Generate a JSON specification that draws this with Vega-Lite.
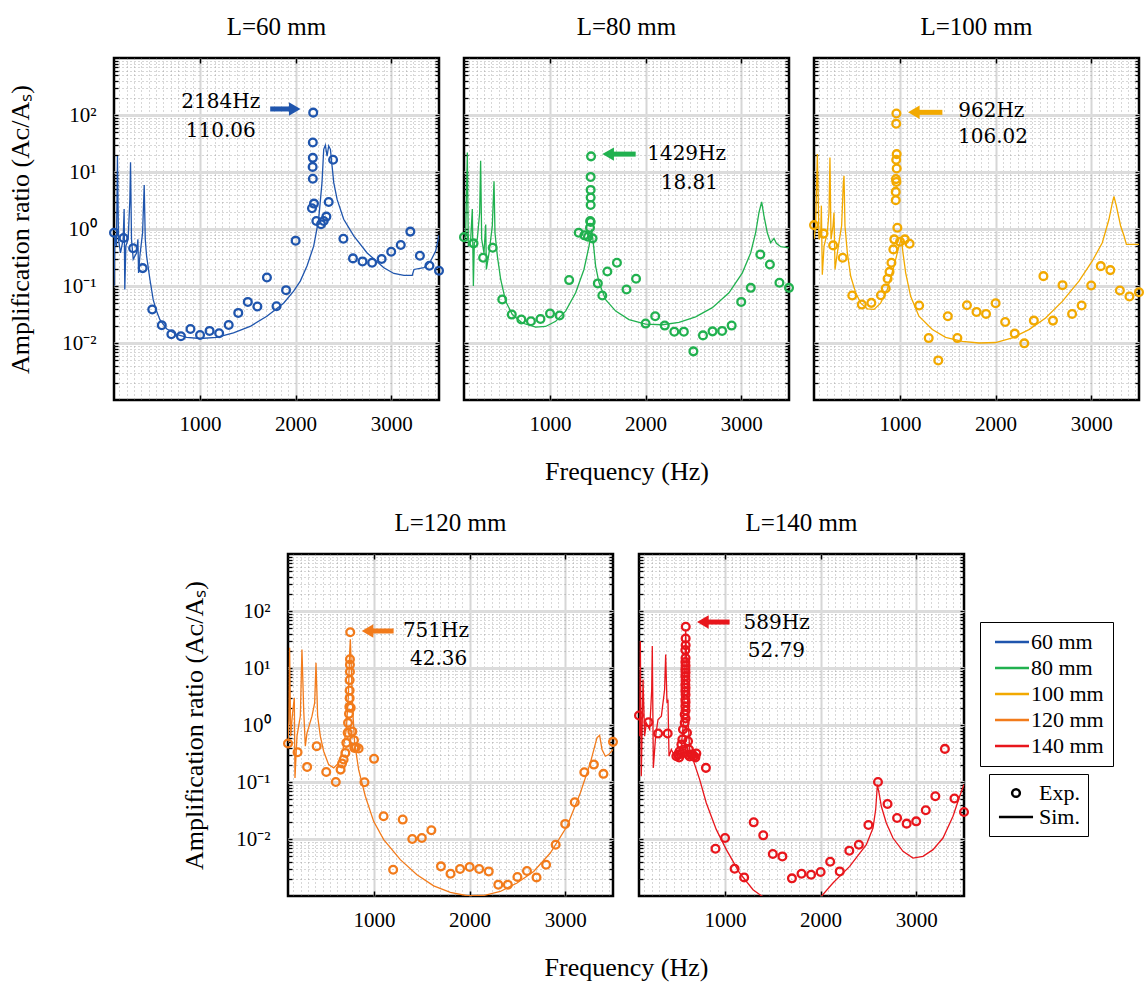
{
  "$schema": "https://vega.github.io/schema/vega-lite/v6.json",
  "padding": {"left": 6, "top": 14, "right": 0, "bottom": 0},
  "datasets": {
    "exp": [
      {"L":"60 mm","f":100,"A":0.86},{"L":"60 mm","f":200,"A":0.695},{"L":"60 mm","f":300,"A":0.46},{"L":"60 mm","f":400,"A":0.206},{"L":"60 mm","f":500,"A":0.0386},{"L":"60 mm","f":600,"A":0.0205},{"L":"60 mm","f":700,"A":0.0142},{"L":"60 mm","f":800,"A":0.0131},{"L":"60 mm","f":900,"A":0.0176},{"L":"60 mm","f":1000,"A":0.0138},{"L":"60 mm","f":1100,"A":0.0163},{"L":"60 mm","f":1200,"A":0.0148},{"L":"60 mm","f":1300,"A":0.0207},{"L":"60 mm","f":1400,"A":0.0337},{"L":"60 mm","f":1500,"A":0.0526},{"L":"60 mm","f":1600,"A":0.0436},{"L":"60 mm","f":1700,"A":0.141},{"L":"60 mm","f":1800,"A":0.0442},{"L":"60 mm","f":1900,"A":0.0845},{"L":"60 mm","f":2000,"A":0.624},{"L":"60 mm","f":2184,"A":110.06},{"L":"60 mm","f":2180,"A":33},{"L":"60 mm","f":2180,"A":17.7},{"L":"60 mm","f":2178,"A":12.3},{"L":"60 mm","f":2180,"A":7.6},{"L":"60 mm","f":2192,"A":2.79},{"L":"60 mm","f":2171,"A":2.31},{"L":"60 mm","f":2217,"A":1.38},{"L":"60 mm","f":2266,"A":1.21},{"L":"60 mm","f":2294,"A":1.38},{"L":"60 mm","f":2322,"A":1.65},{"L":"60 mm","f":2346,"A":2.98},{"L":"60 mm","f":2392,"A":16.4},{"L":"60 mm","f":2500,"A":0.676},{"L":"60 mm","f":2600,"A":0.305},{"L":"60 mm","f":2700,"A":0.27},{"L":"60 mm","f":2800,"A":0.256},{"L":"60 mm","f":2900,"A":0.297},{"L":"60 mm","f":3000,"A":0.4},{"L":"60 mm","f":3100,"A":0.523},{"L":"60 mm","f":3200,"A":0.9},{"L":"60 mm","f":3300,"A":0.34},{"L":"60 mm","f":3400,"A":0.226},{"L":"60 mm","f":3500,"A":0.185},
      {"L":"80 mm","f":100,"A":0.72},{"L":"80 mm","f":200,"A":0.56},{"L":"80 mm","f":300,"A":0.313},{"L":"80 mm","f":400,"A":0.47},{"L":"80 mm","f":500,"A":0.0578},{"L":"80 mm","f":600,"A":0.0315},{"L":"80 mm","f":700,"A":0.0258},{"L":"80 mm","f":800,"A":0.0241},{"L":"80 mm","f":900,"A":0.0264},{"L":"80 mm","f":1000,"A":0.0328},{"L":"80 mm","f":1100,"A":0.0303},{"L":"80 mm","f":1200,"A":0.127},{"L":"80 mm","f":1300,"A":0.86},{"L":"80 mm","f":1360,"A":0.774},{"L":"80 mm","f":1397,"A":0.733},{"L":"80 mm","f":1445,"A":0.685},{"L":"80 mm","f":1418,"A":1.05},{"L":"80 mm","f":1420,"A":1.38},{"L":"80 mm","f":1425,"A":1.33},{"L":"80 mm","f":1425,"A":2.64},{"L":"80 mm","f":1425,"A":3.56},{"L":"80 mm","f":1425,"A":4.85},{"L":"80 mm","f":1425,"A":8.2},{"L":"80 mm","f":1429,"A":18.81},{"L":"80 mm","f":1500,"A":0.111},{"L":"80 mm","f":1547,"A":0.068},{"L":"80 mm","f":1600,"A":0.18},{"L":"80 mm","f":1700,"A":0.256},{"L":"80 mm","f":1800,"A":0.0867},{"L":"80 mm","f":1900,"A":0.134},{"L":"80 mm","f":2000,"A":0.0219},{"L":"80 mm","f":2100,"A":0.0295},{"L":"80 mm","f":2200,"A":0.0202},{"L":"80 mm","f":2300,"A":0.0158},{"L":"80 mm","f":2400,"A":0.0158},{"L":"80 mm","f":2500,"A":0.00713},{"L":"80 mm","f":2600,"A":0.0136},{"L":"80 mm","f":2700,"A":0.016},{"L":"80 mm","f":2800,"A":0.0163},{"L":"80 mm","f":2900,"A":0.0202},{"L":"80 mm","f":3000,"A":0.0526},{"L":"80 mm","f":3100,"A":0.0928},{"L":"80 mm","f":3200,"A":0.358},{"L":"80 mm","f":3300,"A":0.239},{"L":"80 mm","f":3400,"A":0.114},{"L":"80 mm","f":3500,"A":0.0928},
      {"L":"100 mm","f":100,"A":1.17},{"L":"100 mm","f":200,"A":0.83},{"L":"100 mm","f":300,"A":0.516},{"L":"100 mm","f":400,"A":0.313},{"L":"100 mm","f":500,"A":0.068},{"L":"100 mm","f":600,"A":0.0472},{"L":"100 mm","f":700,"A":0.0506},{"L":"100 mm","f":800,"A":0.069},{"L":"100 mm","f":850,"A":0.0904},{"L":"100 mm","f":870,"A":0.134},{"L":"100 mm","f":890,"A":0.177},{"L":"100 mm","f":910,"A":0.256},{"L":"100 mm","f":930,"A":0.439},{"L":"100 mm","f":940,"A":0.658},{"L":"100 mm","f":972,"A":1.05},{"L":"100 mm","f":1000,"A":0.598},{"L":"100 mm","f":1050,"A":0.658},{"L":"100 mm","f":1100,"A":0.552},{"L":"100 mm","f":955,"A":3.19},{"L":"100 mm","f":955,"A":4.48},{"L":"100 mm","f":962,"A":6.7},{"L":"100 mm","f":957,"A":7.5},{"L":"100 mm","f":965,"A":11.5},{"L":"100 mm","f":960,"A":16.4},{"L":"100 mm","f":965,"A":20.6},{"L":"100 mm","f":960,"A":70.5},{"L":"100 mm","f":962,"A":106.02},{"L":"100 mm","f":1200,"A":0.0454},{"L":"100 mm","f":1300,"A":0.0122},{"L":"100 mm","f":1400,"A":0.00495},{"L":"100 mm","f":1500,"A":0.0294},{"L":"100 mm","f":1600,"A":0.0122},{"L":"100 mm","f":1700,"A":0.046},{"L":"100 mm","f":1800,"A":0.0351},{"L":"100 mm","f":1900,"A":0.0324},{"L":"100 mm","f":2000,"A":0.0499},{"L":"100 mm","f":2100,"A":0.0234},{"L":"100 mm","f":2200,"A":0.0146},{"L":"100 mm","f":2300,"A":0.00986},{"L":"100 mm","f":2400,"A":0.0247},{"L":"100 mm","f":2500,"A":0.149},{"L":"100 mm","f":2600,"A":0.0247},{"L":"100 mm","f":2700,"A":0.1035},{"L":"100 mm","f":2800,"A":0.0324},{"L":"100 mm","f":2900,"A":0.0454},{"L":"100 mm","f":3000,"A":0.102},{"L":"100 mm","f":3100,"A":0.223},{"L":"100 mm","f":3200,"A":0.19},{"L":"100 mm","f":3300,"A":0.0834},{"L":"100 mm","f":3400,"A":0.0653},{"L":"100 mm","f":3500,"A":0.0778},
      {"L":"120 mm","f":100,"A":0.473},{"L":"120 mm","f":200,"A":0.333},{"L":"120 mm","f":300,"A":0.184},{"L":"120 mm","f":400,"A":0.425},{"L":"120 mm","f":500,"A":0.15},{"L":"120 mm","f":600,"A":0.1},{"L":"120 mm","f":650,"A":0.165},{"L":"120 mm","f":665,"A":0.211},{"L":"120 mm","f":682,"A":0.248},{"L":"120 mm","f":700,"A":0.324},{"L":"120 mm","f":710,"A":0.486},{"L":"120 mm","f":724,"A":0.728},{"L":"120 mm","f":728,"A":1.09},{"L":"120 mm","f":738,"A":1.57},{"L":"120 mm","f":742,"A":2.08},{"L":"120 mm","f":745,"A":2.96},{"L":"120 mm","f":745,"A":4.04},{"L":"120 mm","f":745,"A":6.14},{"L":"120 mm","f":748,"A":8.6},{"L":"120 mm","f":748,"A":11.4},{"L":"120 mm","f":748,"A":14.2},{"L":"120 mm","f":751,"A":42.36},{"L":"120 mm","f":756,"A":2.0},{"L":"120 mm","f":773,"A":0.77},{"L":"120 mm","f":790,"A":0.542},{"L":"120 mm","f":794,"A":0.397},{"L":"120 mm","f":811,"A":0.408},{"L":"120 mm","f":839,"A":0.387},{"L":"120 mm","f":900,"A":0.099},{"L":"120 mm","f":1000,"A":0.255},{"L":"120 mm","f":1100,"A":0.025},{"L":"120 mm","f":1200,"A":0.00289},{"L":"120 mm","f":1300,"A":0.0219},{"L":"120 mm","f":1400,"A":0.01},{"L":"120 mm","f":1500,"A":0.0104},{"L":"120 mm","f":1600,"A":0.0142},{"L":"120 mm","f":1700,"A":0.00331},{"L":"120 mm","f":1800,"A":0.00246},{"L":"120 mm","f":1900,"A":0.00297},{"L":"120 mm","f":2000,"A":0.00322},{"L":"120 mm","f":2100,"A":0.00297},{"L":"120 mm","f":2200,"A":0.0027},{"L":"120 mm","f":2300,"A":0.00158},{"L":"120 mm","f":2400,"A":0.00158},{"L":"120 mm","f":2500,"A":0.00215},{"L":"120 mm","f":2600,"A":0.00274},{"L":"120 mm","f":2700,"A":0.00212},{"L":"120 mm","f":2800,"A":0.00354},{"L":"120 mm","f":2900,"A":0.00794},{"L":"120 mm","f":3000,"A":0.0184},{"L":"120 mm","f":3100,"A":0.0441},{"L":"120 mm","f":3200,"A":0.148},{"L":"120 mm","f":3300,"A":0.202},{"L":"120 mm","f":3400,"A":0.139},{"L":"120 mm","f":3500,"A":0.506},
      {"L":"140 mm","f":100,"A":1.47},{"L":"140 mm","f":200,"A":1.12},{"L":"140 mm","f":300,"A":0.71},{"L":"140 mm","f":400,"A":0.71},{"L":"140 mm","f":491,"A":0.283},{"L":"140 mm","f":508,"A":0.303},{"L":"140 mm","f":520,"A":0.27},{"L":"140 mm","f":525,"A":0.347},{"L":"140 mm","f":535,"A":0.31},{"L":"140 mm","f":543,"A":0.454},{"L":"140 mm","f":553,"A":0.556},{"L":"140 mm","f":560,"A":0.833},{"L":"140 mm","f":567,"A":0.371},{"L":"140 mm","f":578,"A":1.09},{"L":"140 mm","f":578,"A":1.53},{"L":"140 mm","f":585,"A":2.14},{"L":"140 mm","f":585,"A":2.8},{"L":"140 mm","f":585,"A":3.93},{"L":"140 mm","f":585,"A":5.15},{"L":"140 mm","f":585,"A":7.2},{"L":"140 mm","f":585,"A":9.45},{"L":"140 mm","f":585,"A":12.7},{"L":"140 mm","f":585,"A":20.6},{"L":"140 mm","f":587,"A":1.3},{"L":"140 mm","f":587,"A":1.8},{"L":"140 mm","f":587,"A":2.5},{"L":"140 mm","f":587,"A":3.4},{"L":"140 mm","f":587,"A":4.5},{"L":"140 mm","f":587,"A":6.1},{"L":"140 mm","f":587,"A":8.3},{"L":"140 mm","f":587,"A":11},{"L":"140 mm","f":587,"A":15},{"L":"140 mm","f":588,"A":25},{"L":"140 mm","f":588,"A":33},{"L":"140 mm","f":589,"A":52.79},{"L":"140 mm","f":602,"A":0.728},{"L":"140 mm","f":613,"A":0.52},{"L":"140 mm","f":615,"A":0.3},{"L":"140 mm","f":623,"A":0.371},{"L":"140 mm","f":630,"A":0.28},{"L":"140 mm","f":647,"A":0.303},{"L":"140 mm","f":660,"A":0.3},{"L":"140 mm","f":675,"A":0.283},{"L":"140 mm","f":690,"A":0.27},{"L":"140 mm","f":700,"A":0.315},{"L":"140 mm","f":800,"A":0.177},{"L":"140 mm","f":900,"A":0.00676},{"L":"140 mm","f":1000,"A":0.0104},{"L":"140 mm","f":1100,"A":0.00301},{"L":"140 mm","f":1200,"A":0.00212},{"L":"140 mm","f":1300,"A":0.0196},{"L":"140 mm","f":1400,"A":0.0116},{"L":"140 mm","f":1500,"A":0.00545},{"L":"140 mm","f":1600,"A":0.00495},{"L":"140 mm","f":1700,"A":0.00204},{"L":"140 mm","f":1800,"A":0.00246},{"L":"140 mm","f":1900,"A":0.00236},{"L":"140 mm","f":2000,"A":0.00263},{"L":"140 mm","f":2100,"A":0.004},{"L":"140 mm","f":2200,"A":0.0027},{"L":"140 mm","f":2300,"A":0.00624},{"L":"140 mm","f":2400,"A":0.00794},{"L":"140 mm","f":2500,"A":0.0176},{"L":"140 mm","f":2600,"A":0.1},{"L":"140 mm","f":2700,"A":0.0412},{"L":"140 mm","f":2800,"A":0.0234},{"L":"140 mm","f":2900,"A":0.0186},{"L":"140 mm","f":3000,"A":0.0204},{"L":"140 mm","f":3100,"A":0.0319},{"L":"140 mm","f":3200,"A":0.0562},{"L":"140 mm","f":3300,"A":0.381},{"L":"140 mm","f":3400,"A":0.0512},{"L":"140 mm","f":3500,"A":0.0298}
    ],
    "sim": [
      {"L":"60 mm","f":100,"A":0.1},{"L":"60 mm","f":108,"A":0.76},{"L":"60 mm","f":126,"A":0.5},{"L":"60 mm","f":136,"A":19.1},{"L":"60 mm","f":147,"A":0.66},{"L":"60 mm","f":168,"A":0.38},{"L":"60 mm","f":196,"A":0.66},{"L":"60 mm","f":206,"A":2.24},{"L":"60 mm","f":213,"A":0.087},{"L":"60 mm","f":224,"A":0.5},{"L":"60 mm","f":248,"A":0.66},{"L":"60 mm","f":266,"A":3.3},{"L":"60 mm","f":273,"A":14.8},{"L":"60 mm","f":283,"A":0.66},{"L":"60 mm","f":301,"A":0.295},{"L":"60 mm","f":336,"A":0.38},{"L":"60 mm","f":350,"A":0.66},{"L":"60 mm","f":357,"A":0.17},{"L":"60 mm","f":371,"A":0.34},{"L":"60 mm","f":399,"A":0.86},{"L":"60 mm","f":416,"A":5.9},{"L":"60 mm","f":427,"A":0.66},{"L":"60 mm","f":441,"A":0.335},{"L":"60 mm","f":476,"A":0.13},{"L":"60 mm","f":510,"A":0.0575},{"L":"60 mm","f":545,"A":0.0363},{"L":"60 mm","f":580,"A":0.0257},{"L":"60 mm","f":650,"A":0.0178},{"L":"60 mm","f":755,"A":0.0141},{"L":"60 mm","f":860,"A":0.0126},{"L":"60 mm","f":1000,"A":0.012},{"L":"60 mm","f":1175,"A":0.0126},{"L":"60 mm","f":1350,"A":0.0151},{"L":"60 mm","f":1524,"A":0.0195},{"L":"60 mm","f":1699,"A":0.0295},{"L":"60 mm","f":1874,"A":0.05},{"L":"60 mm","f":1979,"A":0.081},{"L":"60 mm","f":2049,"A":0.122},{"L":"60 mm","f":2119,"A":0.224},{"L":"60 mm","f":2189,"A":0.5},{"L":"60 mm","f":2241,"A":1.48},{"L":"60 mm","f":2276,"A":6.5},{"L":"60 mm","f":2294,"A":25},{"L":"60 mm","f":2311,"A":29.5},{"L":"60 mm","f":2329,"A":19},{"L":"60 mm","f":2346,"A":28.8},{"L":"60 mm","f":2364,"A":25},{"L":"60 mm","f":2381,"A":12.9},{"L":"60 mm","f":2399,"A":6.5},{"L":"60 mm","f":2434,"A":3.3},{"L":"60 mm","f":2503,"A":1.48},{"L":"60 mm","f":2608,"A":0.76},{"L":"60 mm","f":2748,"A":0.38},{"L":"60 mm","f":2923,"A":0.209},{"L":"60 mm","f":3028,"A":0.166},{"L":"60 mm","f":3133,"A":0.153},{"L":"60 mm","f":3220,"A":0.153},{"L":"60 mm","f":3238,"A":0.195},{"L":"60 mm","f":3343,"A":0.209},{"L":"60 mm","f":3413,"A":0.275},{"L":"60 mm","f":3465,"A":0.41},{"L":"60 mm","f":3500,"A":0.78},
      {"L":"80 mm","f":100,"A":0.66},{"L":"80 mm","f":117,"A":0.76},{"L":"80 mm","f":135,"A":21.9},{"L":"80 mm","f":145,"A":0.5},{"L":"80 mm","f":170,"A":0.66},{"L":"80 mm","f":187,"A":2.24},{"L":"80 mm","f":198,"A":0.1},{"L":"80 mm","f":208,"A":0.575},{"L":"80 mm","f":239,"A":0.66},{"L":"80 mm","f":264,"A":1.95},{"L":"80 mm","f":274,"A":15.8},{"L":"80 mm","f":285,"A":0.66},{"L":"80 mm","f":309,"A":0.38},{"L":"80 mm","f":327,"A":1.2},{"L":"80 mm","f":334,"A":0.195},{"L":"80 mm","f":362,"A":0.38},{"L":"80 mm","f":396,"A":1.12},{"L":"80 mm","f":414,"A":6.9},{"L":"80 mm","f":424,"A":0.86},{"L":"80 mm","f":449,"A":0.335},{"L":"80 mm","f":484,"A":0.13},{"L":"80 mm","f":536,"A":0.0537},{"L":"80 mm","f":606,"A":0.0316},{"L":"80 mm","f":710,"A":0.0224},{"L":"80 mm","f":850,"A":0.019},{"L":"80 mm","f":954,"A":0.0195},{"L":"80 mm","f":1059,"A":0.024},{"L":"80 mm","f":1163,"A":0.0363},{"L":"80 mm","f":1268,"A":0.0759},{"L":"80 mm","f":1355,"A":0.195},{"L":"80 mm","f":1408,"A":0.5},{"L":"80 mm","f":1436,"A":0.99},{"L":"80 mm","f":1456,"A":0.5},{"L":"80 mm","f":1477,"A":0.224},{"L":"80 mm","f":1512,"A":0.115},{"L":"80 mm","f":1582,"A":0.0575},{"L":"80 mm","f":1687,"A":0.0363},{"L":"80 mm","f":1826,"A":0.0257},{"L":"80 mm","f":2000,"A":0.0214},{"L":"80 mm","f":2175,"A":0.0209},{"L":"80 mm","f":2349,"A":0.0229},{"L":"80 mm","f":2523,"A":0.0288},{"L":"80 mm","f":2698,"A":0.0417},{"L":"80 mm","f":2872,"A":0.0759},{"L":"80 mm","f":3012,"A":0.17},{"L":"80 mm","f":3099,"A":0.38},{"L":"80 mm","f":3151,"A":0.86},{"L":"80 mm","f":3186,"A":1.95},{"L":"80 mm","f":3214,"A":2.99},{"L":"80 mm","f":3238,"A":1.7},{"L":"80 mm","f":3273,"A":0.86},{"L":"80 mm","f":3308,"A":0.575},{"L":"80 mm","f":3343,"A":0.684},{"L":"80 mm","f":3368,"A":0.562},{"L":"80 mm","f":3413,"A":0.49},{"L":"80 mm","f":3500,"A":0.468},
      {"L":"100 mm","f":100,"A":0.66},{"L":"100 mm","f":117,"A":1.13},{"L":"100 mm","f":135,"A":20.6},{"L":"100 mm","f":152,"A":0.66},{"L":"100 mm","f":170,"A":0.76},{"L":"100 mm","f":177,"A":2.57},{"L":"100 mm","f":187,"A":0.158},{"L":"100 mm","f":205,"A":0.5},{"L":"100 mm","f":239,"A":0.86},{"L":"100 mm","f":257,"A":1.95},{"L":"100 mm","f":267,"A":18},{"L":"100 mm","f":278,"A":0.66},{"L":"100 mm","f":299,"A":1.13},{"L":"100 mm","f":309,"A":1.95},{"L":"100 mm","f":320,"A":0.195},{"L":"100 mm","f":344,"A":0.38},{"L":"100 mm","f":389,"A":1.13},{"L":"100 mm","f":407,"A":6.5},{"L":"100 mm","f":414,"A":8.6},{"L":"100 mm","f":424,"A":1.13},{"L":"100 mm","f":449,"A":0.38},{"L":"100 mm","f":484,"A":0.148},{"L":"100 mm","f":536,"A":0.0759},{"L":"100 mm","f":589,"A":0.05},{"L":"100 mm","f":658,"A":0.0398},{"L":"100 mm","f":728,"A":0.0389},{"L":"100 mm","f":797,"A":0.05},{"L":"100 mm","f":867,"A":0.087},{"L":"100 mm","f":937,"A":0.224},{"L":"100 mm","f":989,"A":0.5},{"L":"100 mm","f":1014,"A":0.676},{"L":"100 mm","f":1031,"A":0.38},{"L":"100 mm","f":1059,"A":0.17},{"L":"100 mm","f":1111,"A":0.066},{"L":"100 mm","f":1198,"A":0.0295},{"L":"100 mm","f":1338,"A":0.0172},{"L":"100 mm","f":1477,"A":0.0126},{"L":"100 mm","f":1652,"A":0.0107},{"L":"100 mm","f":1826,"A":0.01},{"L":"100 mm","f":2000,"A":0.0102},{"L":"100 mm","f":2175,"A":0.0123},{"L":"100 mm","f":2349,"A":0.0172},{"L":"100 mm","f":2523,"A":0.0275},{"L":"100 mm","f":2698,"A":0.0537},{"L":"100 mm","f":2872,"A":0.122},{"L":"100 mm","f":3012,"A":0.275},{"L":"100 mm","f":3116,"A":0.575},{"L":"100 mm","f":3186,"A":1.48},{"L":"100 mm","f":3221,"A":2.88},{"L":"100 mm","f":3238,"A":3.72},{"L":"100 mm","f":3263,"A":2.54},{"L":"100 mm","f":3308,"A":1.13},{"L":"100 mm","f":3343,"A":0.76},{"L":"100 mm","f":3368,"A":0.537},{"L":"100 mm","f":3500,"A":0.537},
      {"L":"120 mm","f":100,"A":0.486},{"L":"120 mm","f":110,"A":1.25},{"L":"120 mm","f":117,"A":22.7},{"L":"120 mm","f":128,"A":0.637},{"L":"120 mm","f":142,"A":1.25},{"L":"120 mm","f":152,"A":1.87},{"L":"120 mm","f":166,"A":3.0},{"L":"120 mm","f":173,"A":0.118},{"L":"120 mm","f":194,"A":0.637},{"L":"120 mm","f":229,"A":1.43},{"L":"120 mm","f":246,"A":21.2},{"L":"120 mm","f":264,"A":1.87},{"L":"120 mm","f":281,"A":0.425},{"L":"120 mm","f":299,"A":0.728},{"L":"120 mm","f":351,"A":1.43},{"L":"120 mm","f":379,"A":2.45},{"L":"120 mm","f":393,"A":12.4},{"L":"120 mm","f":410,"A":1.43},{"L":"120 mm","f":438,"A":0.637},{"L":"120 mm","f":473,"A":0.347},{"L":"120 mm","f":525,"A":0.202},{"L":"120 mm","f":578,"A":0.177},{"L":"120 mm","f":630,"A":0.216},{"L":"120 mm","f":675,"A":0.372},{"L":"120 mm","f":710,"A":0.834},{"L":"120 mm","f":731,"A":3.21},{"L":"120 mm","f":745,"A":18.5},{"L":"120 mm","f":752,"A":31.8},{"L":"120 mm","f":763,"A":9.44},{"L":"120 mm","f":777,"A":1.87},{"L":"120 mm","f":797,"A":0.486},{"L":"120 mm","f":839,"A":0.165},{"L":"120 mm","f":909,"A":0.0562},{"L":"120 mm","f":996,"A":0.0204},{"L":"120 mm","f":1101,"A":0.00973},{"L":"120 mm","f":1275,"A":0.00434},{"L":"120 mm","f":1449,"A":0.00236},{"L":"120 mm","f":1624,"A":0.00151},{"L":"120 mm","f":1798,"A":0.00116},{"L":"120 mm","f":1973,"A":0.00101},{"L":"120 mm","f":2147,"A":0.00102},{"L":"120 mm","f":2321,"A":0.0012},{"L":"120 mm","f":2496,"A":0.00169},{"L":"120 mm","f":2670,"A":0.0027},{"L":"120 mm","f":2844,"A":0.00568},{"L":"120 mm","f":3019,"A":0.0167},{"L":"120 mm","f":3158,"A":0.0643},{"L":"120 mm","f":3263,"A":0.216},{"L":"120 mm","f":3332,"A":0.596},{"L":"120 mm","f":3360,"A":0.662},{"L":"120 mm","f":3385,"A":0.372},{"L":"120 mm","f":3420,"A":0.283},{"L":"120 mm","f":3455,"A":0.303},{"L":"120 mm","f":3500,"A":0.372},
      {"L":"140 mm","f":100,"A":1.43},{"L":"140 mm","f":107,"A":0.637},{"L":"140 mm","f":114,"A":29.7},{"L":"140 mm","f":124,"A":0.126},{"L":"140 mm","f":142,"A":6.3},{"L":"140 mm","f":159,"A":0.637},{"L":"140 mm","f":177,"A":1.09},{"L":"140 mm","f":212,"A":0.834},{"L":"140 mm","f":233,"A":4.2},{"L":"140 mm","f":239,"A":24.3},{"L":"140 mm","f":250,"A":0.177},{"L":"140 mm","f":274,"A":0.637},{"L":"140 mm","f":299,"A":1.25},{"L":"140 mm","f":334,"A":1.43},{"L":"140 mm","f":368,"A":4.2},{"L":"140 mm","f":379,"A":17.3},{"L":"140 mm","f":393,"A":2.45},{"L":"140 mm","f":403,"A":2.8},{"L":"140 mm","f":414,"A":0.283},{"L":"140 mm","f":438,"A":0.372},{"L":"140 mm","f":473,"A":0.283},{"L":"140 mm","f":508,"A":0.303},{"L":"140 mm","f":543,"A":0.425},{"L":"140 mm","f":567,"A":1.25},{"L":"140 mm","f":581,"A":12.4},{"L":"140 mm","f":588,"A":47.7},{"L":"140 mm","f":599,"A":12.4},{"L":"140 mm","f":613,"A":1.25},{"L":"140 mm","f":630,"A":0.372},{"L":"140 mm","f":665,"A":0.248},{"L":"140 mm","f":735,"A":0.11},{"L":"140 mm","f":804,"A":0.0429},{"L":"140 mm","f":909,"A":0.0146},{"L":"140 mm","f":1014,"A":0.0065},{"L":"140 mm","f":1153,"A":0.00253},{"L":"140 mm","f":1293,"A":0.00129},{"L":"140 mm","f":1390,"A":0.000984},{"L":"140 mm","f":1700,"A":0.0003},{"L":"140 mm","f":2007,"A":0.000984},{"L":"140 mm","f":2129,"A":0.00169},{"L":"140 mm","f":2304,"A":0.00331},{"L":"140 mm","f":2478,"A":0.00794},{"L":"140 mm","f":2548,"A":0.0156},{"L":"140 mm","f":2576,"A":0.0327},{"L":"140 mm","f":2594,"A":0.0902},{"L":"140 mm","f":2611,"A":0.0643},{"L":"140 mm","f":2635,"A":0.0375},{"L":"140 mm","f":2687,"A":0.0191},{"L":"140 mm","f":2757,"A":0.0104},{"L":"140 mm","f":2862,"A":0.00607},{"L":"140 mm","f":2966,"A":0.00463},{"L":"140 mm","f":3071,"A":0.00495},{"L":"140 mm","f":3176,"A":0.0065},{"L":"140 mm","f":3280,"A":0.0104},{"L":"140 mm","f":3385,"A":0.025},{"L":"140 mm","f":3455,"A":0.0562},{"L":"140 mm","f":3500,"A":0.0902}
    ],
    "ann": [
      {"L":"60 mm","f":1217,"A":167,"label":"2184Hz"},{"L":"60 mm","f":1217,"A":53,"label":"110.06"},
      {"L":"80 mm","f":2429,"A":20.6,"label":"1429Hz"},{"L":"80 mm","f":2457,"A":6.35,"label":"18.81"},
      {"L":"100 mm","f":1955,"A":119,"label":"962Hz"},{"L":"100 mm","f":1973,"A":40.5,"label":"106.02"},
      {"L":"120 mm","f":1648,"A":44.6,"label":"751Hz"},{"L":"120 mm","f":1676,"A":14.2,"label":"42.36"},
      {"L":"140 mm","f":1540,"A":62.4,"label":"589Hz"},{"L":"140 mm","f":1537,"A":19.8,"label":"52.79"}
    ],
    "arr": [
      {"L":"60 mm","f0":1734,"f1":1991,"A":127.6},
      {"L":"80 mm","f0":1896,"f1":1608,"A":20.6},
      {"L":"100 mm","f0":1443,"f1":1144,"A":111.4},
      {"L":"120 mm","f0":1205,"f1":932,"A":44.6},
      {"L":"140 mm","f0":1048,"f1":768,"A":64}
    ]
  },
  "vconcat": [
    {
      "hconcat": [
        {
          "width": 325, "height": 342, "title": "L=60 mm",
          "layer": [
            {"data": {"name": "sim"}, "transform": [{"filter": "datum.L == '60 mm'"}],
             "mark": {"type": "line", "strokeWidth": 1.3, "clip": true},
             "encoding": {
               "x": {"field": "f", "type": "quantitative", "scale": {"domain": [100, 3500], "nice": false, "zero": false}, "axis": {"orient": "bottom", "values": [1000, 2000, 3000], "format": "d", "grid": true, "gridColor": "#d6d6d6", "gridWidth": 2, "ticks": false, "tickSize": 0, "labelPadding": 13, "title": null}},
               "y": {"field": "A", "type": "quantitative", "scale": {"type": "log", "domain": [0.001, 1000], "nice": false}, "axis": {"orient": "left", "values": [0.01, 0.1, 1, 10, 100], "grid": true, "gridColor": "#dcdcdc", "gridWidth": 3, "ticks": false, "tickSize": 0, "labelPadding": 18, "labelExpr": "datum.value >= 99 ? '10²' : datum.value >= 9 ? '10¹' : datum.value >= 0.9 ? '10⁰' : datum.value >= 0.09 ? '10⁻¹' : '10⁻²'", "title": "Amplification ratio (Aᴄ/Aₛ)", "titlePadding": 28}},
               "color": {"field": "L", "type": "nominal", "scale": {"domain": ["60 mm", "80 mm", "100 mm", "120 mm", "140 mm"], "range": ["#1f55ad", "#21b14f", "#f2a900", "#f27b1b", "#e8161c"]},
                 "legend": {"title": null, "orient": "none", "legendX": 866, "legendY": 564, "symbolType": "M-3.4,0L3.4,0", "symbolSize": 100, "symbolOffset": 12, "labelOffset": 8, "symbolStrokeWidth": 2.5, "rowPadding": 4, "padding": 9, "strokeColor": "black", "labelFontSize": 22, "labelFont": "Liberation Serif"}}
             }},
            {"data": {"name": "exp"}, "transform": [{"filter": "datum.L == '60 mm'"}],
             "mark": {"type": "point", "filled": false, "strokeWidth": 2.3, "size": 60, "opacity": 1},
             "encoding": {
               "x": {"field": "f", "type": "quantitative", "scale": {"domain": [100, 3500], "nice": false, "zero": false}, "axis": {"orient": "bottom", "values": [153.8, 230.8, 307.7, 384.6, 461.5, 538.5, 615.4, 692.3, 769.2, 846.2, 923.1, 1076.9, 1153.8, 1230.8, 1307.7, 1384.6, 1461.5, 1538.5, 1615.4, 1692.3, 1769.2, 1846.2, 1923.1, 2076.9, 2153.8, 2230.8, 2307.7, 2384.6, 2461.5, 2538.5, 2615.4, 2692.3, 2769.2, 2846.2, 2923.1, 3076.9, 3153.8, 3230.8, 3307.7, 3384.6, 3461.5], "grid": true, "gridColor": "#8c8c8c", "gridOpacity": 0.7, "gridDash": [1, 3], "gridWidth": 1, "ticks": false, "labels": false, "title": null}},
               "y": {"field": "A", "type": "quantitative", "scale": {"type": "log", "domain": [0.001, 1000], "nice": false}, "axis": {"orient": "left", "values": [0.002, 0.003, 0.004, 0.005, 0.006, 0.007, 0.008, 0.009, 0.02, 0.03, 0.04, 0.05, 0.06, 0.07, 0.08, 0.09, 0.2, 0.3, 0.4, 0.5, 0.6, 0.7, 0.8, 0.9, 2, 3, 4, 5, 6, 7, 8, 9, 20, 30, 40, 50, 60, 70, 80, 90, 200, 300, 400, 500, 600, 700, 800, 900], "grid": true, "gridColor": "#8c8c8c", "gridOpacity": 0.7, "gridDash": [1, 3], "gridWidth": 1, "ticks": false, "labels": false, "title": null}},
               "color": {"field": "L", "type": "nominal"},
               "shape": {"datum": "Exp.", "scale": {"domain": ["Exp.", "Sim."], "range": ["circle", "M-4.4,0L4.4,0"]},
                 "legend": {"title": null, "orient": "none", "legendX": 875, "legendY": 716, "symbolSize": 60, "symbolOffset": 8, "labelOffset": 12, "symbolStrokeWidth": 2.5, "symbolStrokeColor": "black", "symbolFillColor": "transparent", "rowPadding": 2, "padding": 8, "strokeColor": "black", "labelFontSize": 22, "labelFont": "Liberation Serif"}}
             }},
            {"data": {"name": "ann"}, "transform": [{"filter": "datum.L == '60 mm'"}],
             "mark": {"type": "text", "font": "DejaVu Serif", "fontSize": 20, "color": "black", "align": "center", "baseline": "middle"},
             "encoding": {
               "x": {"field": "f", "type": "quantitative", "scale": {"domain": [100, 3500], "nice": false, "zero": false}, "axis": {"orient": "bottom", "values": [1000, 2000, 3000], "grid": false, "ticks": true, "tickSize": -5, "tickColor": "black", "tickWidth": 1.5, "labels": false, "title": null}},
               "y": {"field": "A", "type": "quantitative", "scale": {"type": "log", "domain": [0.001, 1000], "nice": false}, "axis": {"orient": "left", "values": [0.002, 0.003, 0.004, 0.005, 0.006, 0.007, 0.008, 0.009, 0.01, 0.02, 0.03, 0.04, 0.05, 0.06, 0.07, 0.08, 0.09, 0.1, 0.2, 0.3, 0.4, 0.5, 0.6, 0.7, 0.8, 0.9, 1, 2, 3, 4, 5, 6, 7, 8, 9, 10, 20, 30, 40, 50, 60, 70, 80, 90, 100, 200, 300, 400, 500, 600, 700, 800, 900], "grid": false, "ticks": true, "tickSize": -4, "tickColor": "black", "tickWidth": 1.3, "labels": false, "title": null}},
               "text": {"field": "label"}
             }},
            {"data": {"name": "arr"}, "transform": [{"filter": "datum.L == '60 mm'"}],
             "mark": {"type": "rule", "strokeWidth": 5},
             "encoding": {
               "x": {"field": "f0", "type": "quantitative", "scale": {"domain": [100, 3500], "nice": false, "zero": false}, "axis": {"orient": "top", "values": [1000, 2000, 3000], "grid": false, "ticks": true, "tickSize": -5, "tickColor": "black", "tickWidth": 1.5, "labels": false, "title": null}},
               "x2": {"field": "f1"},
               "y": {"field": "A", "type": "quantitative", "scale": {"type": "log", "domain": [0.001, 1000], "nice": false}, "axis": {"orient": "right", "values": [0.002, 0.003, 0.004, 0.005, 0.006, 0.007, 0.008, 0.009, 0.01, 0.02, 0.03, 0.04, 0.05, 0.06, 0.07, 0.08, 0.09, 0.1, 0.2, 0.3, 0.4, 0.5, 0.6, 0.7, 0.8, 0.9, 1, 2, 3, 4, 5, 6, 7, 8, 9, 10, 20, 30, 40, 50, 60, 70, 80, 90, 100, 200, 300, 400, 500, 600, 700, 800, 900], "grid": false, "ticks": true, "tickSize": -4, "tickColor": "black", "tickWidth": 1.3, "labels": false, "title": null}},
               "color": {"field": "L", "type": "nominal"}
             }},
            {"data": {"name": "arr"}, "transform": [{"filter": "datum.L == '60 mm'"}],
             "mark": {"type": "point", "shape": "triangle-right", "filled": true, "size": 180, "opacity": 1},
             "encoding": {
               "x": {"field": "f1", "type": "quantitative", "scale": {"domain": [100, 3500], "nice": false, "zero": false}, "axis": null},
               "y": {"field": "A", "type": "quantitative", "scale": {"type": "log", "domain": [0.001, 1000], "nice": false}, "axis": null},
               "color": {"field": "L", "type": "nominal"}
             }}
          ],
          "resolve": {"axis": {"x": "independent", "y": "independent"}}
        },
        {
          "width": 325, "height": 342, "title": "L=80 mm",
          "layer": [
            {"data": {"name": "sim"}, "transform": [{"filter": "datum.L == '80 mm'"}],
             "mark": {"type": "line", "strokeWidth": 1.3, "clip": true},
             "encoding": {
               "x": {"field": "f", "type": "quantitative", "scale": {"domain": [100, 3500], "nice": false, "zero": false}, "axis": {"orient": "bottom", "values": [1000, 2000, 3000], "format": "d", "grid": true, "gridColor": "#d6d6d6", "gridWidth": 2, "ticks": false, "tickSize": 0, "labelPadding": 13, "title": "Frequency (Hz)", "titlePadding": 24}},
               "y": {"field": "A", "type": "quantitative", "scale": {"type": "log", "domain": [0.001, 1000], "nice": false}, "axis": {"orient": "left", "values": [0.01, 0.1, 1, 10, 100], "grid": true, "gridColor": "#dcdcdc", "gridWidth": 3, "ticks": false, "tickSize": 0, "labels": false, "title": null}},
               "color": {"field": "L", "type": "nominal"}
             }},
            {"data": {"name": "exp"}, "transform": [{"filter": "datum.L == '80 mm'"}],
             "mark": {"type": "point", "filled": false, "strokeWidth": 2.3, "size": 60, "opacity": 1},
             "encoding": {
               "x": {"field": "f", "type": "quantitative", "scale": {"domain": [100, 3500], "nice": false, "zero": false}, "axis": {"orient": "bottom", "values": [153.8, 230.8, 307.7, 384.6, 461.5, 538.5, 615.4, 692.3, 769.2, 846.2, 923.1, 1076.9, 1153.8, 1230.8, 1307.7, 1384.6, 1461.5, 1538.5, 1615.4, 1692.3, 1769.2, 1846.2, 1923.1, 2076.9, 2153.8, 2230.8, 2307.7, 2384.6, 2461.5, 2538.5, 2615.4, 2692.3, 2769.2, 2846.2, 2923.1, 3076.9, 3153.8, 3230.8, 3307.7, 3384.6, 3461.5], "grid": true, "gridColor": "#8c8c8c", "gridOpacity": 0.7, "gridDash": [1, 3], "gridWidth": 1, "ticks": false, "labels": false, "title": null}},
               "y": {"field": "A", "type": "quantitative", "scale": {"type": "log", "domain": [0.001, 1000], "nice": false}, "axis": {"orient": "left", "values": [0.002, 0.003, 0.004, 0.005, 0.006, 0.007, 0.008, 0.009, 0.02, 0.03, 0.04, 0.05, 0.06, 0.07, 0.08, 0.09, 0.2, 0.3, 0.4, 0.5, 0.6, 0.7, 0.8, 0.9, 2, 3, 4, 5, 6, 7, 8, 9, 20, 30, 40, 50, 60, 70, 80, 90, 200, 300, 400, 500, 600, 700, 800, 900], "grid": true, "gridColor": "#8c8c8c", "gridOpacity": 0.7, "gridDash": [1, 3], "gridWidth": 1, "ticks": false, "labels": false, "title": null}},
               "color": {"field": "L", "type": "nominal"},
               "shape": {"datum": "Exp.", "scale": {"domain": ["Exp.", "Sim."], "range": ["circle", "M-4.4,0L4.4,0"]}}
             }},
            {"data": {"name": "ann"}, "transform": [{"filter": "datum.L == '80 mm'"}],
             "mark": {"type": "text", "font": "DejaVu Serif", "fontSize": 20, "color": "black", "align": "center", "baseline": "middle"},
             "encoding": {
               "x": {"field": "f", "type": "quantitative", "scale": {"domain": [100, 3500], "nice": false, "zero": false}, "axis": {"orient": "bottom", "values": [1000, 2000, 3000], "grid": false, "ticks": true, "tickSize": -5, "tickColor": "black", "tickWidth": 1.5, "labels": false, "title": null}},
               "y": {"field": "A", "type": "quantitative", "scale": {"type": "log", "domain": [0.001, 1000], "nice": false}, "axis": {"orient": "left", "values": [0.002, 0.003, 0.004, 0.005, 0.006, 0.007, 0.008, 0.009, 0.01, 0.02, 0.03, 0.04, 0.05, 0.06, 0.07, 0.08, 0.09, 0.1, 0.2, 0.3, 0.4, 0.5, 0.6, 0.7, 0.8, 0.9, 1, 2, 3, 4, 5, 6, 7, 8, 9, 10, 20, 30, 40, 50, 60, 70, 80, 90, 100, 200, 300, 400, 500, 600, 700, 800, 900], "grid": false, "ticks": true, "tickSize": -4, "tickColor": "black", "tickWidth": 1.3, "labels": false, "title": null}},
               "text": {"field": "label"}
             }},
            {"data": {"name": "arr"}, "transform": [{"filter": "datum.L == '80 mm'"}],
             "mark": {"type": "rule", "strokeWidth": 5},
             "encoding": {
               "x": {"field": "f0", "type": "quantitative", "scale": {"domain": [100, 3500], "nice": false, "zero": false}, "axis": {"orient": "top", "values": [1000, 2000, 3000], "grid": false, "ticks": true, "tickSize": -5, "tickColor": "black", "tickWidth": 1.5, "labels": false, "title": null}},
               "x2": {"field": "f1"},
               "y": {"field": "A", "type": "quantitative", "scale": {"type": "log", "domain": [0.001, 1000], "nice": false}, "axis": {"orient": "right", "values": [0.002, 0.003, 0.004, 0.005, 0.006, 0.007, 0.008, 0.009, 0.01, 0.02, 0.03, 0.04, 0.05, 0.06, 0.07, 0.08, 0.09, 0.1, 0.2, 0.3, 0.4, 0.5, 0.6, 0.7, 0.8, 0.9, 1, 2, 3, 4, 5, 6, 7, 8, 9, 10, 20, 30, 40, 50, 60, 70, 80, 90, 100, 200, 300, 400, 500, 600, 700, 800, 900], "grid": false, "ticks": true, "tickSize": -4, "tickColor": "black", "tickWidth": 1.3, "labels": false, "title": null}},
               "color": {"field": "L", "type": "nominal"}
             }},
            {"data": {"name": "arr"}, "transform": [{"filter": "datum.L == '80 mm'"}],
             "mark": {"type": "point", "shape": "triangle-left", "filled": true, "size": 180, "opacity": 1},
             "encoding": {
               "x": {"field": "f1", "type": "quantitative", "scale": {"domain": [100, 3500], "nice": false, "zero": false}, "axis": null},
               "y": {"field": "A", "type": "quantitative", "scale": {"type": "log", "domain": [0.001, 1000], "nice": false}, "axis": null},
               "color": {"field": "L", "type": "nominal"}
             }}
          ],
          "resolve": {"axis": {"x": "independent", "y": "independent"}}
        },
        {
          "width": 325, "height": 342, "title": "L=100 mm",
          "layer": [
            {"data": {"name": "sim"}, "transform": [{"filter": "datum.L == '100 mm'"}],
             "mark": {"type": "line", "strokeWidth": 1.3, "clip": true},
             "encoding": {
               "x": {"field": "f", "type": "quantitative", "scale": {"domain": [100, 3500], "nice": false, "zero": false}, "axis": {"orient": "bottom", "values": [1000, 2000, 3000], "format": "d", "grid": true, "gridColor": "#d6d6d6", "gridWidth": 2, "ticks": false, "tickSize": 0, "labelPadding": 13, "title": null}},
               "y": {"field": "A", "type": "quantitative", "scale": {"type": "log", "domain": [0.001, 1000], "nice": false}, "axis": {"orient": "left", "values": [0.01, 0.1, 1, 10, 100], "grid": true, "gridColor": "#dcdcdc", "gridWidth": 3, "ticks": false, "tickSize": 0, "labels": false, "title": null}},
               "color": {"field": "L", "type": "nominal"}
             }},
            {"data": {"name": "exp"}, "transform": [{"filter": "datum.L == '100 mm'"}],
             "mark": {"type": "point", "filled": false, "strokeWidth": 2.3, "size": 60, "opacity": 1},
             "encoding": {
               "x": {"field": "f", "type": "quantitative", "scale": {"domain": [100, 3500], "nice": false, "zero": false}, "axis": {"orient": "bottom", "values": [153.8, 230.8, 307.7, 384.6, 461.5, 538.5, 615.4, 692.3, 769.2, 846.2, 923.1, 1076.9, 1153.8, 1230.8, 1307.7, 1384.6, 1461.5, 1538.5, 1615.4, 1692.3, 1769.2, 1846.2, 1923.1, 2076.9, 2153.8, 2230.8, 2307.7, 2384.6, 2461.5, 2538.5, 2615.4, 2692.3, 2769.2, 2846.2, 2923.1, 3076.9, 3153.8, 3230.8, 3307.7, 3384.6, 3461.5], "grid": true, "gridColor": "#8c8c8c", "gridOpacity": 0.7, "gridDash": [1, 3], "gridWidth": 1, "ticks": false, "labels": false, "title": null}},
               "y": {"field": "A", "type": "quantitative", "scale": {"type": "log", "domain": [0.001, 1000], "nice": false}, "axis": {"orient": "left", "values": [0.002, 0.003, 0.004, 0.005, 0.006, 0.007, 0.008, 0.009, 0.02, 0.03, 0.04, 0.05, 0.06, 0.07, 0.08, 0.09, 0.2, 0.3, 0.4, 0.5, 0.6, 0.7, 0.8, 0.9, 2, 3, 4, 5, 6, 7, 8, 9, 20, 30, 40, 50, 60, 70, 80, 90, 200, 300, 400, 500, 600, 700, 800, 900], "grid": true, "gridColor": "#8c8c8c", "gridOpacity": 0.7, "gridDash": [1, 3], "gridWidth": 1, "ticks": false, "labels": false, "title": null}},
               "color": {"field": "L", "type": "nominal"},
               "shape": {"datum": "Exp.", "scale": {"domain": ["Exp.", "Sim."], "range": ["circle", "M-4.4,0L4.4,0"]}}
             }},
            {"data": {"name": "ann"}, "transform": [{"filter": "datum.L == '100 mm'"}],
             "mark": {"type": "text", "font": "DejaVu Serif", "fontSize": 20, "color": "black", "align": "center", "baseline": "middle"},
             "encoding": {
               "x": {"field": "f", "type": "quantitative", "scale": {"domain": [100, 3500], "nice": false, "zero": false}, "axis": {"orient": "bottom", "values": [1000, 2000, 3000], "grid": false, "ticks": true, "tickSize": -5, "tickColor": "black", "tickWidth": 1.5, "labels": false, "title": null}},
               "y": {"field": "A", "type": "quantitative", "scale": {"type": "log", "domain": [0.001, 1000], "nice": false}, "axis": {"orient": "left", "values": [0.002, 0.003, 0.004, 0.005, 0.006, 0.007, 0.008, 0.009, 0.01, 0.02, 0.03, 0.04, 0.05, 0.06, 0.07, 0.08, 0.09, 0.1, 0.2, 0.3, 0.4, 0.5, 0.6, 0.7, 0.8, 0.9, 1, 2, 3, 4, 5, 6, 7, 8, 9, 10, 20, 30, 40, 50, 60, 70, 80, 90, 100, 200, 300, 400, 500, 600, 700, 800, 900], "grid": false, "ticks": true, "tickSize": -4, "tickColor": "black", "tickWidth": 1.3, "labels": false, "title": null}},
               "text": {"field": "label"}
             }},
            {"data": {"name": "arr"}, "transform": [{"filter": "datum.L == '100 mm'"}],
             "mark": {"type": "rule", "strokeWidth": 5},
             "encoding": {
               "x": {"field": "f0", "type": "quantitative", "scale": {"domain": [100, 3500], "nice": false, "zero": false}, "axis": {"orient": "top", "values": [1000, 2000, 3000], "grid": false, "ticks": true, "tickSize": -5, "tickColor": "black", "tickWidth": 1.5, "labels": false, "title": null}},
               "x2": {"field": "f1"},
               "y": {"field": "A", "type": "quantitative", "scale": {"type": "log", "domain": [0.001, 1000], "nice": false}, "axis": {"orient": "right", "values": [0.002, 0.003, 0.004, 0.005, 0.006, 0.007, 0.008, 0.009, 0.01, 0.02, 0.03, 0.04, 0.05, 0.06, 0.07, 0.08, 0.09, 0.1, 0.2, 0.3, 0.4, 0.5, 0.6, 0.7, 0.8, 0.9, 1, 2, 3, 4, 5, 6, 7, 8, 9, 10, 20, 30, 40, 50, 60, 70, 80, 90, 100, 200, 300, 400, 500, 600, 700, 800, 900], "grid": false, "ticks": true, "tickSize": -4, "tickColor": "black", "tickWidth": 1.3, "labels": false, "title": null}},
               "color": {"field": "L", "type": "nominal"}
             }},
            {"data": {"name": "arr"}, "transform": [{"filter": "datum.L == '100 mm'"}],
             "mark": {"type": "point", "shape": "triangle-left", "filled": true, "size": 180, "opacity": 1},
             "encoding": {
               "x": {"field": "f1", "type": "quantitative", "scale": {"domain": [100, 3500], "nice": false, "zero": false}, "axis": null},
               "y": {"field": "A", "type": "quantitative", "scale": {"type": "log", "domain": [0.001, 1000], "nice": false}, "axis": null},
               "color": {"field": "L", "type": "nominal"}
             }}
          ],
          "resolve": {"axis": {"x": "independent", "y": "independent"}}
        }
      ],
      "spacing": 25,
      "bounds": "flush"
    },
    {
      "hconcat": [
        {
          "width": 148, "height": 342, "view": {"stroke": null},
          "data": {"values": []},
          "mark": {"type": "point"},
          "encoding": {}
        },
        {
          "width": 325, "height": 342, "title": "L=120 mm",
          "layer": [
            {"data": {"name": "sim"}, "transform": [{"filter": "datum.L == '120 mm'"}],
             "mark": {"type": "line", "strokeWidth": 1.3, "clip": true},
             "encoding": {
               "x": {"field": "f", "type": "quantitative", "scale": {"domain": [100, 3500], "nice": false, "zero": false}, "axis": {"orient": "bottom", "values": [1000, 2000, 3000], "format": "d", "grid": true, "gridColor": "#d6d6d6", "gridWidth": 2, "ticks": false, "tickSize": 0, "labelPadding": 13, "title": null}},
               "y": {"field": "A", "type": "quantitative", "scale": {"type": "log", "domain": [0.001, 1000], "nice": false}, "axis": {"orient": "left", "values": [0.01, 0.1, 1, 10, 100], "grid": true, "gridColor": "#dcdcdc", "gridWidth": 3, "ticks": false, "tickSize": 0, "labelPadding": 18, "labelExpr": "datum.value >= 99 ? '10²' : datum.value >= 9 ? '10¹' : datum.value >= 0.9 ? '10⁰' : datum.value >= 0.09 ? '10⁻¹' : '10⁻²'", "title": "Amplification ratio (Aᴄ/Aₛ)", "titlePadding": 28}},
               "color": {"field": "L", "type": "nominal"}
             }},
            {"data": {"name": "exp"}, "transform": [{"filter": "datum.L == '120 mm'"}],
             "mark": {"type": "point", "filled": false, "strokeWidth": 2.3, "size": 60, "opacity": 1},
             "encoding": {
               "x": {"field": "f", "type": "quantitative", "scale": {"domain": [100, 3500], "nice": false, "zero": false}, "axis": {"orient": "bottom", "values": [153.8, 230.8, 307.7, 384.6, 461.5, 538.5, 615.4, 692.3, 769.2, 846.2, 923.1, 1076.9, 1153.8, 1230.8, 1307.7, 1384.6, 1461.5, 1538.5, 1615.4, 1692.3, 1769.2, 1846.2, 1923.1, 2076.9, 2153.8, 2230.8, 2307.7, 2384.6, 2461.5, 2538.5, 2615.4, 2692.3, 2769.2, 2846.2, 2923.1, 3076.9, 3153.8, 3230.8, 3307.7, 3384.6, 3461.5], "grid": true, "gridColor": "#8c8c8c", "gridOpacity": 0.7, "gridDash": [1, 3], "gridWidth": 1, "ticks": false, "labels": false, "title": null}},
               "y": {"field": "A", "type": "quantitative", "scale": {"type": "log", "domain": [0.001, 1000], "nice": false}, "axis": {"orient": "left", "values": [0.002, 0.003, 0.004, 0.005, 0.006, 0.007, 0.008, 0.009, 0.02, 0.03, 0.04, 0.05, 0.06, 0.07, 0.08, 0.09, 0.2, 0.3, 0.4, 0.5, 0.6, 0.7, 0.8, 0.9, 2, 3, 4, 5, 6, 7, 8, 9, 20, 30, 40, 50, 60, 70, 80, 90, 200, 300, 400, 500, 600, 700, 800, 900], "grid": true, "gridColor": "#8c8c8c", "gridOpacity": 0.7, "gridDash": [1, 3], "gridWidth": 1, "ticks": false, "labels": false, "title": null}},
               "color": {"field": "L", "type": "nominal"},
               "shape": {"datum": "Exp.", "scale": {"domain": ["Exp.", "Sim."], "range": ["circle", "M-4.4,0L4.4,0"]}}
             }},
            {"data": {"name": "ann"}, "transform": [{"filter": "datum.L == '120 mm'"}],
             "mark": {"type": "text", "font": "DejaVu Serif", "fontSize": 20, "color": "black", "align": "center", "baseline": "middle"},
             "encoding": {
               "x": {"field": "f", "type": "quantitative", "scale": {"domain": [100, 3500], "nice": false, "zero": false}, "axis": {"orient": "bottom", "values": [1000, 2000, 3000], "grid": false, "ticks": true, "tickSize": -5, "tickColor": "black", "tickWidth": 1.5, "labels": false, "title": null}},
               "y": {"field": "A", "type": "quantitative", "scale": {"type": "log", "domain": [0.001, 1000], "nice": false}, "axis": {"orient": "left", "values": [0.002, 0.003, 0.004, 0.005, 0.006, 0.007, 0.008, 0.009, 0.01, 0.02, 0.03, 0.04, 0.05, 0.06, 0.07, 0.08, 0.09, 0.1, 0.2, 0.3, 0.4, 0.5, 0.6, 0.7, 0.8, 0.9, 1, 2, 3, 4, 5, 6, 7, 8, 9, 10, 20, 30, 40, 50, 60, 70, 80, 90, 100, 200, 300, 400, 500, 600, 700, 800, 900], "grid": false, "ticks": true, "tickSize": -4, "tickColor": "black", "tickWidth": 1.3, "labels": false, "title": null}},
               "text": {"field": "label"}
             }},
            {"data": {"name": "arr"}, "transform": [{"filter": "datum.L == '120 mm'"}],
             "mark": {"type": "rule", "strokeWidth": 5},
             "encoding": {
               "x": {"field": "f0", "type": "quantitative", "scale": {"domain": [100, 3500], "nice": false, "zero": false}, "axis": {"orient": "top", "values": [1000, 2000, 3000], "grid": false, "ticks": true, "tickSize": -5, "tickColor": "black", "tickWidth": 1.5, "labels": false, "title": null}},
               "x2": {"field": "f1"},
               "y": {"field": "A", "type": "quantitative", "scale": {"type": "log", "domain": [0.001, 1000], "nice": false}, "axis": {"orient": "right", "values": [0.002, 0.003, 0.004, 0.005, 0.006, 0.007, 0.008, 0.009, 0.01, 0.02, 0.03, 0.04, 0.05, 0.06, 0.07, 0.08, 0.09, 0.1, 0.2, 0.3, 0.4, 0.5, 0.6, 0.7, 0.8, 0.9, 1, 2, 3, 4, 5, 6, 7, 8, 9, 10, 20, 30, 40, 50, 60, 70, 80, 90, 100, 200, 300, 400, 500, 600, 700, 800, 900], "grid": false, "ticks": true, "tickSize": -4, "tickColor": "black", "tickWidth": 1.3, "labels": false, "title": null}},
               "color": {"field": "L", "type": "nominal"}
             }},
            {"data": {"name": "arr"}, "transform": [{"filter": "datum.L == '120 mm'"}],
             "mark": {"type": "point", "shape": "triangle-left", "filled": true, "size": 180, "opacity": 1},
             "encoding": {
               "x": {"field": "f1", "type": "quantitative", "scale": {"domain": [100, 3500], "nice": false, "zero": false}, "axis": null},
               "y": {"field": "A", "type": "quantitative", "scale": {"type": "log", "domain": [0.001, 1000], "nice": false}, "axis": null},
               "color": {"field": "L", "type": "nominal"}
             }}
          ],
          "resolve": {"axis": {"x": "independent", "y": "independent"}}
        },
        {
          "width": 325, "height": 342, "title": "L=140 mm",
          "layer": [
            {"data": {"name": "sim"}, "transform": [{"filter": "datum.L == '140 mm'"}],
             "mark": {"type": "line", "strokeWidth": 1.3, "clip": true},
             "encoding": {
               "x": {"field": "f", "type": "quantitative", "scale": {"domain": [100, 3500], "nice": false, "zero": false}, "axis": {"orient": "bottom", "values": [1000, 2000, 3000], "format": "d", "grid": true, "gridColor": "#d6d6d6", "gridWidth": 2, "ticks": false, "tickSize": 0, "labelPadding": 13, "title": "Frequency (Hz)", "titlePadding": 24, "titleX": -13}},
               "y": {"field": "A", "type": "quantitative", "scale": {"type": "log", "domain": [0.001, 1000], "nice": false}, "axis": {"orient": "left", "values": [0.01, 0.1, 1, 10, 100], "grid": true, "gridColor": "#dcdcdc", "gridWidth": 3, "ticks": false, "tickSize": 0, "labels": false, "title": null}},
               "color": {"field": "L", "type": "nominal"}
             }},
            {"data": {"name": "exp"}, "transform": [{"filter": "datum.L == '140 mm'"}],
             "mark": {"type": "point", "filled": false, "strokeWidth": 2.3, "size": 60, "opacity": 1},
             "encoding": {
               "x": {"field": "f", "type": "quantitative", "scale": {"domain": [100, 3500], "nice": false, "zero": false}, "axis": {"orient": "bottom", "values": [153.8, 230.8, 307.7, 384.6, 461.5, 538.5, 615.4, 692.3, 769.2, 846.2, 923.1, 1076.9, 1153.8, 1230.8, 1307.7, 1384.6, 1461.5, 1538.5, 1615.4, 1692.3, 1769.2, 1846.2, 1923.1, 2076.9, 2153.8, 2230.8, 2307.7, 2384.6, 2461.5, 2538.5, 2615.4, 2692.3, 2769.2, 2846.2, 2923.1, 3076.9, 3153.8, 3230.8, 3307.7, 3384.6, 3461.5], "grid": true, "gridColor": "#8c8c8c", "gridOpacity": 0.7, "gridDash": [1, 3], "gridWidth": 1, "ticks": false, "labels": false, "title": null}},
               "y": {"field": "A", "type": "quantitative", "scale": {"type": "log", "domain": [0.001, 1000], "nice": false}, "axis": {"orient": "left", "values": [0.002, 0.003, 0.004, 0.005, 0.006, 0.007, 0.008, 0.009, 0.02, 0.03, 0.04, 0.05, 0.06, 0.07, 0.08, 0.09, 0.2, 0.3, 0.4, 0.5, 0.6, 0.7, 0.8, 0.9, 2, 3, 4, 5, 6, 7, 8, 9, 20, 30, 40, 50, 60, 70, 80, 90, 200, 300, 400, 500, 600, 700, 800, 900], "grid": true, "gridColor": "#8c8c8c", "gridOpacity": 0.7, "gridDash": [1, 3], "gridWidth": 1, "ticks": false, "labels": false, "title": null}},
               "color": {"field": "L", "type": "nominal"},
               "shape": {"datum": "Exp.", "scale": {"domain": ["Exp.", "Sim."], "range": ["circle", "M-4.4,0L4.4,0"]}}
             }},
            {"data": {"name": "ann"}, "transform": [{"filter": "datum.L == '140 mm'"}],
             "mark": {"type": "text", "font": "DejaVu Serif", "fontSize": 20, "color": "black", "align": "center", "baseline": "middle"},
             "encoding": {
               "x": {"field": "f", "type": "quantitative", "scale": {"domain": [100, 3500], "nice": false, "zero": false}, "axis": {"orient": "bottom", "values": [1000, 2000, 3000], "grid": false, "ticks": true, "tickSize": -5, "tickColor": "black", "tickWidth": 1.5, "labels": false, "title": null}},
               "y": {"field": "A", "type": "quantitative", "scale": {"type": "log", "domain": [0.001, 1000], "nice": false}, "axis": {"orient": "left", "values": [0.002, 0.003, 0.004, 0.005, 0.006, 0.007, 0.008, 0.009, 0.01, 0.02, 0.03, 0.04, 0.05, 0.06, 0.07, 0.08, 0.09, 0.1, 0.2, 0.3, 0.4, 0.5, 0.6, 0.7, 0.8, 0.9, 1, 2, 3, 4, 5, 6, 7, 8, 9, 10, 20, 30, 40, 50, 60, 70, 80, 90, 100, 200, 300, 400, 500, 600, 700, 800, 900], "grid": false, "ticks": true, "tickSize": -4, "tickColor": "black", "tickWidth": 1.3, "labels": false, "title": null}},
               "text": {"field": "label"}
             }},
            {"data": {"name": "arr"}, "transform": [{"filter": "datum.L == '140 mm'"}],
             "mark": {"type": "rule", "strokeWidth": 5},
             "encoding": {
               "x": {"field": "f0", "type": "quantitative", "scale": {"domain": [100, 3500], "nice": false, "zero": false}, "axis": {"orient": "top", "values": [1000, 2000, 3000], "grid": false, "ticks": true, "tickSize": -5, "tickColor": "black", "tickWidth": 1.5, "labels": false, "title": null}},
               "x2": {"field": "f1"},
               "y": {"field": "A", "type": "quantitative", "scale": {"type": "log", "domain": [0.001, 1000], "nice": false}, "axis": {"orient": "right", "values": [0.002, 0.003, 0.004, 0.005, 0.006, 0.007, 0.008, 0.009, 0.01, 0.02, 0.03, 0.04, 0.05, 0.06, 0.07, 0.08, 0.09, 0.1, 0.2, 0.3, 0.4, 0.5, 0.6, 0.7, 0.8, 0.9, 1, 2, 3, 4, 5, 6, 7, 8, 9, 10, 20, 30, 40, 50, 60, 70, 80, 90, 100, 200, 300, 400, 500, 600, 700, 800, 900], "grid": false, "ticks": true, "tickSize": -4, "tickColor": "black", "tickWidth": 1.3, "labels": false, "title": null}},
               "color": {"field": "L", "type": "nominal"}
             }},
            {"data": {"name": "arr"}, "transform": [{"filter": "datum.L == '140 mm'"}],
             "mark": {"type": "point", "shape": "triangle-left", "filled": true, "size": 180, "opacity": 1},
             "encoding": {
               "x": {"field": "f1", "type": "quantitative", "scale": {"domain": [100, 3500], "nice": false, "zero": false}, "axis": null},
               "y": {"field": "A", "type": "quantitative", "scale": {"type": "log", "domain": [0.001, 1000], "nice": false}, "axis": null},
               "color": {"field": "L", "type": "nominal"}
             }}
          ],
          "resolve": {"axis": {"x": "independent", "y": "independent"}}
        }
      ],
      "spacing": 26,
      "bounds": "flush"
    }
  ],
  "spacing": 24,
  "config": {
    "font": "Liberation Serif",
    "view": {"stroke": "black", "strokeWidth": 2.5},
    "axis": {"labelFont": "Liberation Serif", "labelFontSize": 21, "labelColor": "black", "titleFont": "Liberation Serif", "titleFontSize": 26, "titleFontWeight": "normal", "titleColor": "black", "domain": false},
    "title": {"font": "Liberation Serif", "fontSize": 25, "fontWeight": "normal", "color": "black", "offset": 17},
    "legend": {"labelFont": "Liberation Serif", "labelFontSize": 22, "labelColor": "black"}
  }
}
